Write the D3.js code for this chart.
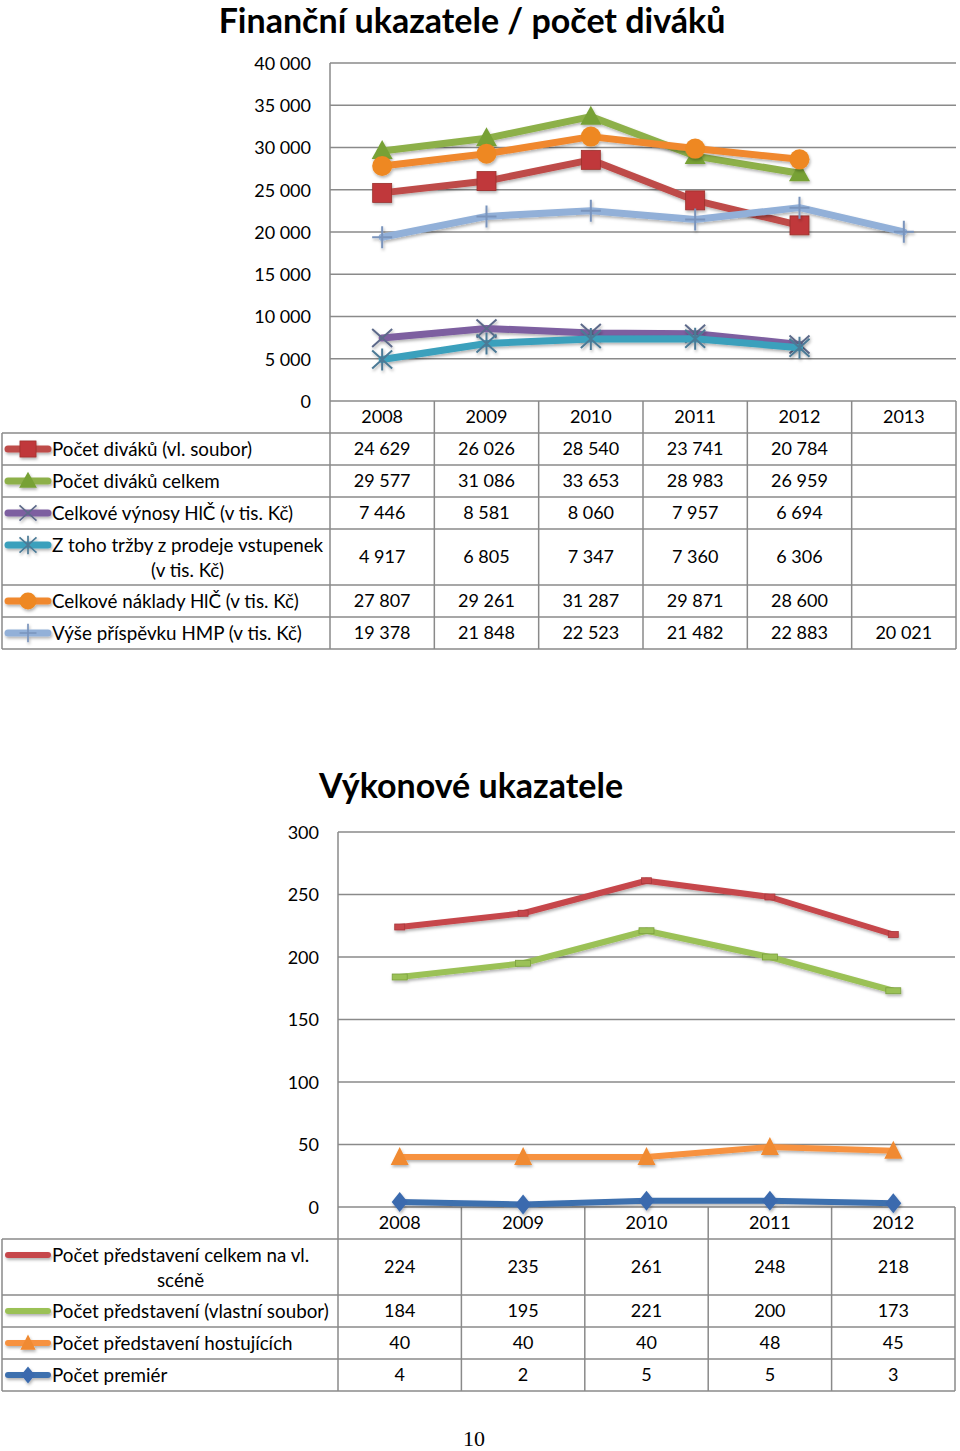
<!DOCTYPE html>
<html><head><meta charset="utf-8">
<script src="https://cdn.jsdelivr.net/npm/d3@7"></script>
<style>
body{margin:0;background:#fff}
svg{display:block}
text{font-family:Lato,"Open Sans",sans-serif;fill:#000}
</style>
</head><body>
<svg id="c" width="960" height="1451"></svg>
<script>
// ---------- DATA ----------
const title1 = "Finanční ukazatele / počet diváků";
const years1 = ["2008","2009","2010","2011","2012","2013"];
const yTicks1 = [0,5000,10000,15000,20000,25000,30000,35000,40000];
const names1 = ["Počet diváků (vl. soubor)","Počet diváků celkem","Celkové výnosy HlČ (v tis. Kč)","Z toho tržby z prodeje vstupenek|(v tis. Kč)","Celkové náklady HlČ (v tis. Kč)","Výše příspěvku HMP (v tis. Kč)"];
const divakuVl = [24629,26026,28540,23741,20784,null];
const divakuCelkem = [29577,31086,33653,28983,26959,null];
const vynosy = [7446,8581,8060,7957,6694,null];
const trzby = [4917,6805,7347,7360,6306,null];
const naklady = [27807,29261,31287,29871,28600,null];
const prispevek = [19378,21848,22523,21482,22883,20021];

const title2 = "Výkonové ukazatele";
const years2 = ["2008","2009","2010","2011","2012"];
const yTicks2 = [0,50,100,150,200,250,300];
const names2 = ["Počet představení celkem na vl.|scéně","Počet představení (vlastní soubor)","Počet představení hostujících","Počet premiér"];
const predCelkem = [224,235,261,248,218];
const predVlastni = [184,195,221,200,173];
const predHost = [40,40,40,48,45];
const premiery = [4,2,5,5,3];

const pageNo = "10";

// ---------- HELPERS ----------
const svg = d3.select("#c");
const defs = svg.append("defs");
const f = defs.append("filter").attr("id","sh").attr("filterUnits","userSpaceOnUse")
  .attr("x",0).attr("y",0).attr("width",960).attr("height",1451);
f.append("feDropShadow").attr("dx",1).attr("dy",2).attr("stdDeviation",1.4).attr("flood-color","#000").attr("flood-opacity",0.3);

const fmt = v => v==null ? "" : d3.format(",")(v).replace(/,/g," ");
const GRID = "#8a8a8a";
const LBL = 18.8;

function marker(g, type, x, y, c, k){
  k = k || 1;
  const s = g.append("g").attr("transform",`translate(${x},${y}) scale(${k})`);
  if(type==="square") s.append("rect").attr("x",-9.5).attr("y",-9.5).attr("width",19).attr("height",19).attr("fill",c.m).attr("stroke",c.ms).attr("stroke-width",0.8);
  else if(type==="triangle") s.append("path").attr("d","M0,-11L10.5,8L-10.5,8Z").attr("fill",c.m);
  else if(type==="circle") s.append("circle").attr("r",10).attr("fill",c.m);
  else if(type==="x") s.append("path").attr("d","M-10,-9L10,9M-10,9L10,-9").attr("stroke",c.ms).attr("stroke-width",2);
  else if(type==="star") s.append("path").attr("d","M-10,-9L10,9M-10,9L10,-9M0,-11L0,11").attr("stroke",c.ms).attr("stroke-width",2);
  else if(type==="plus") s.append("path").attr("d","M0,-11L0,11M-10,0L10,0").attr("stroke",c.ms).attr("stroke-width",2);
  else if(type==="tiny") s.append("rect").attr("x",-5).attr("y",-3).attr("width",10).attr("height",6).attr("fill",c.m).attr("stroke",c.ms).attr("stroke-width",0.8);
  else if(type==="tinyw") s.append("rect").attr("x",-7.5).attr("y",-3).attr("width",15).attr("height",6).attr("fill",c.m).attr("stroke",c.ms).attr("stroke-width",0.8);
  else if(type==="tri2") s.append("path").attr("d","M0,-10L9,8L-9,8Z").attr("fill",c.m);
  else if(type==="diamond") s.append("path").attr("d","M0,-10L8,0L0,10L-8,0Z").attr("fill",c.m);
}

function chart(cfg){
  const {years, ticks, yMax, left, right, top, bottom, tickX, seriesList, names, rowH, lw, headerH} = cfg;
  const x = d3.scaleBand().domain(years).range([left,right]);
  const y = d3.scaleLinear().domain([0,yMax]).range([bottom,top]);
  const g = svg.append("g");

  g.append("g").selectAll("line").data(ticks).join("line")
    .attr("x1",left).attr("x2",right).attr("y1",d=>y(d)).attr("y2",d=>y(d))
    .attr("stroke",GRID).attr("stroke-width",1.5);
  g.append("line").attr("x1",left).attr("x2",left).attr("y1",top).attr("y2",bottom).attr("stroke",GRID).attr("stroke-width",1.5);

  const ax = g.append("g").attr("transform",`translate(${tickX},0)`)
    .call(d3.axisLeft(y).tickValues(ticks).tickSize(0).tickPadding(0).tickFormat(fmt));
  ax.select(".domain").remove();
  ax.selectAll("text").attr("font-size",18).attr("font-family","Lato,'Open Sans',sans-serif").attr("fill","#000").attr("dy","0.36em");

  const rows = [];
  let yy = bottom + headerH;
  names.forEach((n,i)=>{ const h = rowH[i]; rows.push({y0:yy,y1:yy+h}); yy+=h; });
  const tEnd = yy;
  const tg = g.append("g");
  const hl = [bottom+headerH].concat(rows.map(r=>r.y1));
  tg.selectAll("line.h").data(hl).join("line").attr("class","h")
    .attr("x1",2).attr("x2",right).attr("y1",d=>d).attr("y2",d=>d)
    .attr("stroke",GRID).attr("stroke-width",1.5);
  const vx = years.map(d=>x(d)).concat([right]);
  tg.selectAll("line.v").data(vx).join("line").attr("class","v")
    .attr("x1",d=>d).attr("x2",d=>d).attr("y1",bottom).attr("y2",tEnd)
    .attr("stroke",GRID).attr("stroke-width",1.5);
  tg.append("line").attr("x1",2).attr("x2",2).attr("y1",bottom+headerH).attr("y2",tEnd).attr("stroke",GRID).attr("stroke-width",1.5);
  tg.selectAll("text.yr").data(years).join("text").attr("class","yr")
    .attr("x",d=>x(d)+x.bandwidth()/2).attr("y",bottom+headerH/2).attr("dy","0.36em")
    .attr("text-anchor","middle").attr("font-size",18).text(d=>d);

  names.forEach((n,i)=>{
    const s = seriesList[i], r = rows[i], cy=(r.y0+r.y1)/2;
    const parts = n.split("|");
    const ky = parts.length>1? r.y0+16 : cy;
    const lk = tg.append("g").attr("filter","url(#sh)");
    lk.append("line").attr("x1",8).attr("x2",48).attr("y1",ky).attr("y2",ky)
      .attr("stroke",s.c.l).attr("stroke-width",lw).attr("stroke-linecap","round");
    const lkType = ("key" in s) ? s.key : s.type;
    if(lkType) marker(lk, lkType, 28, ky, s.c, 0.85);
    if(parts.length>1){
      const t1 = tg.append("text").attr("x",52).attr("y",r.y0+16).attr("dy","0.36em").attr("font-size",LBL).text(parts[0]);
      const w = t1.node().getComputedTextLength();
      tg.append("text").attr("x",52+w/2).attr("y",r.y0+41).attr("dy","0.36em").attr("text-anchor","middle").attr("font-size",LBL).text(parts[1]);
    } else {
      tg.append("text").attr("x",52).attr("y",cy).attr("dy","0.36em").attr("font-size",LBL).text(parts[0]);
    }
    tg.selectAll(null).data(s.v.map((v,j)=>({v,yr:years[j]}))).join("text")
      .attr("x",d=>x(d.yr)+x.bandwidth()/2).attr("y",cy).attr("dy","0.36em")
      .attr("text-anchor","middle").attr("font-size",18).text(d=>fmt(d.v));
  });

  seriesList.forEach(s=>{
    const pts = s.v.map((v,j)=>({v,yr:years[j]})).filter(d=>d.v!=null);
    const lg = g.append("g").attr("filter","url(#sh)");
    lg.append("path").datum(pts)
      .attr("d", d3.line().x(d=>x(d.yr)+x.bandwidth()/2).y(d=>y(d.v)))
      .attr("fill","none").attr("stroke",s.c.l).attr("stroke-width",lw).attr("stroke-linejoin","round").attr("stroke-linecap","round");
    if(s.type) pts.forEach(d=>marker(lg, s.type, x(d.yr)+x.bandwidth()/2, y(d.v), s.c));
  });
}

// ---------- TITLES ----------
svg.append("text").attr("x",472).attr("y",33).attr("text-anchor","middle")
  .attr("font-size",34).attr("font-weight","bold").text(title1);
svg.append("text").attr("x",471).attr("y",798).attr("text-anchor","middle")
  .attr("font-size",34).attr("font-weight","bold").text(title2);

// ---------- CHART 1 ----------
chart({
  years: years1, ticks: yTicks1, yMax: 40000, left: 330, right: 956, top: 63, bottom: 401, tickX: 311,
  headerH: 32, rowH: [32,32,32,56,32,32], lw: 7, names: names1,
  seriesList: [
    {v: divakuVl, type:"square", c:{l:"#BE4B48", m:"#C0393B", ms:"#9A2E2B"}},
    {v: divakuCelkem, type:"triangle", c:{l:"#8DB04A", m:"#77A136", ms:"#5E8A2A"}},
    {v: vynosy, type:"x", c:{l:"#7D5FA0", m:"#7D5FA0", ms:"#5D6A8A"}},
    {v: trzby, type:"star", c:{l:"#3BA0BC", m:"#3BA0BC", ms:"#4C7A96"}},
    {v: naklady, type:"circle", c:{l:"#F0882F", m:"#EE8820", ms:"#D06E10"}},
    {v: prispevek, type:"plus", c:{l:"#92B0D8", m:"#92B0D8", ms:"#7A94BC"}}
  ]
});

// ---------- CHART 2 ----------
chart({
  years: years2, ticks: yTicks2, yMax: 300, left: 338, right: 955, top: 832, bottom: 1207, tickX: 319,
  headerH: 32, rowH: [56,32,32,32], lw: 6, names: names2,
  seriesList: [
    {v: predCelkem, type:"tiny", key:null, c:{l:"#C6474B", m:"#C6474B", ms:"#A83A3D"}},
    {v: predVlastni, type:"tinyw", key:null, c:{l:"#9BC157", m:"#9BC157", ms:"#7A9E3E"}},
    {v: predHost, type:"tri2", c:{l:"#F7923F", m:"#F08A30", ms:"#D06E10"}},
    {v: premiery, type:"diamond", c:{l:"#3E6FAE", m:"#3A6AAE", ms:"#2A5590"}}
  ]
});

svg.append("text").attr("x",474).attr("y",1446).attr("text-anchor","middle")
  .attr("font-size",22).style("font-family","'Liberation Serif',serif").text(pageNo);
</script>
</body></html>
